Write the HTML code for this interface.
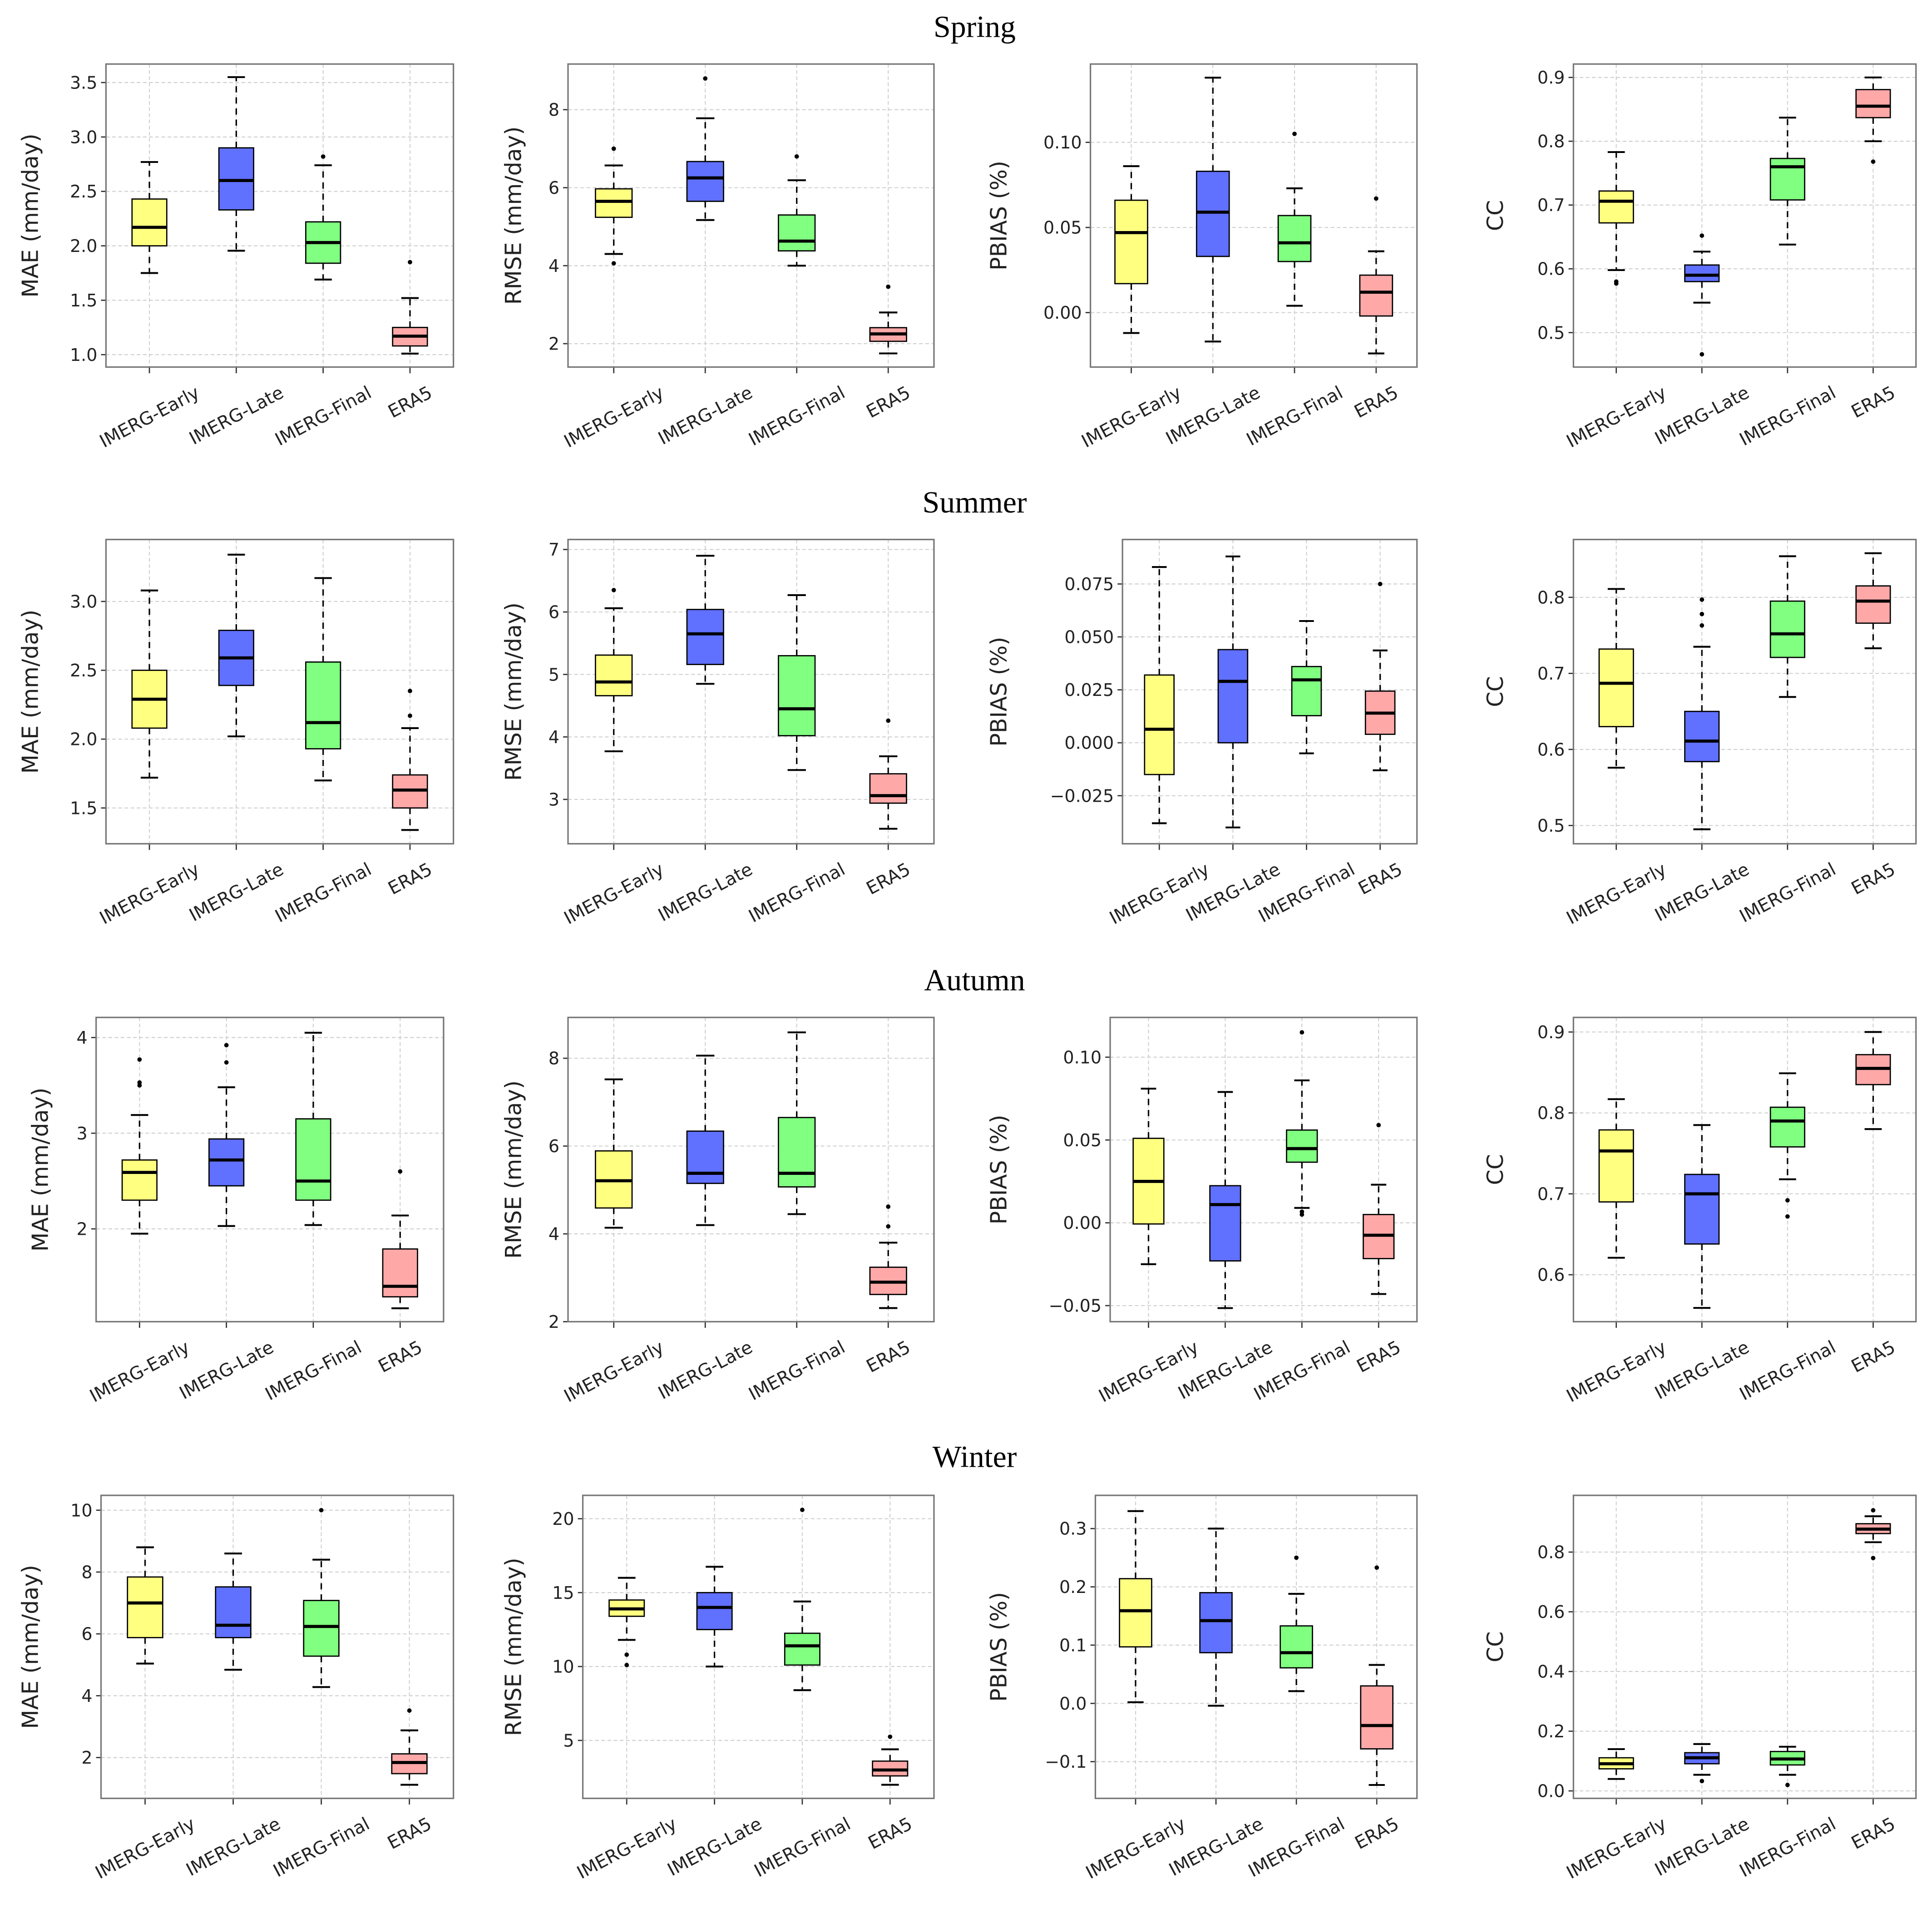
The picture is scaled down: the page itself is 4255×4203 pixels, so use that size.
<!DOCTYPE html>
<html><head><meta charset="utf-8"><style>
html,body{margin:0;padding:0;background:#fff;}
svg{display:block;}
text{font-family:"DejaVu Sans","Liberation Sans",sans-serif;fill:#222;}
.title{font-family:"Liberation Serif",serif;font-size:25px;fill:#000;}
</style></head><body>
<svg id="fig" xmlns="http://www.w3.org/2000/svg" width="4255" height="4203" viewBox="0 0 1568 1549" preserveAspectRatio="none">
<rect width="1568" height="1549" fill="#fff"/>
</svg>
<script>
const cats=['IMERG-Early','IMERG-Late','IMERG-Final','ERA5'];
const seasons=['Spring','Summer','Autumn','Winter'];
const metrics=['MAE (mm/day)','RMSE (mm/day)','PBIAS (%)','CC'];
// stats: [whiskerLow, q1, median, q3, whiskerHigh]
const spMAE=[[1.75,2.0,2.17,2.43,2.77],[1.955,2.33,2.6,2.9,3.55],[1.69,1.84,2.03,2.22,2.74],[1.01,1.08,1.17,1.25,1.52]];
const spMAEOut=[[],[],[2.82],[1.85]];
const spRMSE=[[4.3,5.24,5.65,5.97,6.57],[5.17,5.65,6.25,6.67,7.78],[4.0,4.38,4.63,5.3,6.19],[1.75,2.06,2.25,2.41,2.8]];
const spRMSEOut=[[4.06,7.0],[8.8],[6.8],[3.46]];
const spPB=[[-0.012,0.017,0.047,0.066,0.086],[-0.017,0.033,0.059,0.083,0.138],[0.004,0.030,0.041,0.057,0.073],[-0.024,-0.002,0.012,0.022,0.036]];
const spPBOut=[[],[],[0.105],[0.067]];
const spCC=[[0.598,0.672,0.706,0.722,0.783],[0.547,0.58,0.59,0.606,0.627],[0.638,0.708,0.76,0.773,0.837],[0.8,0.837,0.855,0.881,0.9]];
const spCCOut=[[0.58,0.577],[0.652,0.466],[],[0.768]];

const suMAE=[[1.72,2.08,2.29,2.5,3.08],[2.02,2.39,2.59,2.79,3.34],[1.7,1.93,2.12,2.56,3.17],[1.34,1.5,1.63,1.74,2.08]];
const suMAEOut=[[],[],[],[2.17,2.35]];
const suRMSE=[[3.77,4.66,4.88,5.31,6.06],[4.85,5.16,5.65,6.04,6.9],[3.47,4.02,4.45,5.3,6.27],[2.53,2.94,3.06,3.41,3.69]];
const suRMSEOut=[[6.35],[],[],[4.26]];
const suPB=[[-0.038,-0.015,0.0064,0.032,0.083],[-0.04,0,0.029,0.044,0.088],[-0.005,0.0128,0.0297,0.036,0.0575],[-0.013,0.004,0.014,0.0244,0.0436]];
const suPBOut=[[],[],[],[0.075]];
const suCC=[[0.576,0.63,0.687,0.732,0.811],[0.495,0.584,0.611,0.65,0.735],[0.669,0.721,0.752,0.795,0.854],[0.733,0.766,0.795,0.815,0.858]];
const suCCOut=[[],[0.763,0.778,0.797],[],[]];

const auMAE=[[1.95,2.3,2.59,2.72,3.19],[2.03,2.45,2.72,2.94,3.48],[2.04,2.3,2.5,3.15,4.05],[1.17,1.29,1.4,1.79,2.14]];
const auMAEOut=[[3.5,3.53,3.77],[3.74,3.92],[],[2.6]];
const auRMSE=[[4.14,4.59,5.21,5.89,7.52],[4.2,5.15,5.38,6.34,8.06],[4.45,5.07,5.38,6.65,8.59],[2.31,2.62,2.9,3.24,3.8]];
const auRMSEOut=[[],[],[],[4.17,4.62]];
const auPB=[[-0.025,-0.0007,0.025,0.051,0.081],[-0.0515,-0.023,0.011,0.0224,0.079],[0.009,0.0366,0.0448,0.056,0.086],[-0.043,-0.0216,-0.0075,0.005,0.023]];
const auPBOut=[[],[],[0.0067,0.005,0.115],[0.059]];
const auCC=[[0.621,0.69,0.753,0.779,0.817],[0.559,0.638,0.7,0.724,0.785],[0.718,0.758,0.79,0.807,0.849],[0.78,0.835,0.855,0.872,0.9]];
const auCCOut=[[],[],[0.692,0.672],[]];

const wiMAE=[[5.04,5.88,7.0,7.84,8.8],[4.84,5.88,6.28,7.52,8.6],[4.28,5.28,6.24,7.08,8.4],[1.12,1.48,1.84,2.12,2.88]];
const wiMAEOut=[[],[],[10.0],[3.52]];
const wiRMSE=[[11.8,13.4,13.9,14.5,16.0],[10.0,12.5,14.0,15.0,16.75],[8.4,10.1,11.4,12.25,14.4],[2.0,2.6,3.0,3.6,4.4]];
const wiRMSEOut=[[10.8,10.1],[],[20.6],[5.25]];
const wiPB=[[0.002,0.097,0.159,0.214,0.33],[-0.004,0.087,0.142,0.19,0.3],[0.021,0.061,0.087,0.133,0.188],[-0.14,-0.078,-0.038,0.03,0.066]];
const wiPBOut=[[],[],[0.25],[0.233]];
const wiCC=[[0.04,0.074,0.091,0.111,0.14],[0.054,0.091,0.111,0.128,0.157],[0.054,0.087,0.107,0.132,0.148],[0.833,0.862,0.877,0.895,0.92]];
const wiCCOut=[[],[0.033],[0.02],[0.94,0.78]];

// tick label values
const tMAE1=[1.0,1.5,2.0,2.5,3.0,3.5];
const tRMSE1=[2,4,6,8];
const tPB1=[0.00,0.05,0.10];
const tCC1=[0.5,0.6,0.7,0.8,0.9];
const tMAE2=[1.5,2.0,2.5,3.0];
const tRMSE2=[3,4,5,6,7];
const tPB2=[-0.025,0.000,0.025,0.050,0.075];
const tCC2=[0.5,0.6,0.7,0.8];
const tMAE3=[2,3,4];
const tRMSE3=[2,4,6,8];
const tPB3=[-0.05,0.00,0.05,0.10];
const tCC3=[0.6,0.7,0.8,0.9];
const tMAE4=[2,4,6,8,10];
const tRMSE4=[5,10,15,20];
const tPB4=[-0.1,0.0,0.1,0.2,0.3];
const tCC4=[0.0,0.2,0.4,0.6,0.8];

const colors=['#ffff80','#6070ff','#80ff80','#ffa8a8'];
const rowsY=[[52,298],[438,685],[826,1073],[1214,1460]];
const titleY=[22,408,796,1183];
const panels=[
 [[86,368,26,0.886,3.67,tMAE1,1,spMAE,spMAEOut],[461,758,418,1.4,9.17,tRMSE1,0,spRMSE,spRMSEOut],[885,1150,812,-0.032,0.146,tPB1,2,spPB,spPBOut],[1277,1555,1215,0.446,0.921,tCC1,1,spCC,spCCOut]],
 [[86,368,26,1.24,3.45,tMAE2,1,suMAE,suMAEOut],[461,758,418,2.29,7.16,tRMSE2,0,suRMSE,suRMSEOut],[911,1150,812,-0.0477,0.096,tPB2,3,suPB,suPBOut],[1277,1555,1215,0.476,0.876,tCC2,1,suCC,suCCOut]],
 [[78,360,34,1.03,4.21,tMAE3,0,auMAE,auMAEOut],[461,758,418,2.0,8.93,tRMSE3,0,auRMSE,auRMSEOut],[901,1150,812,-0.0597,0.124,tPB3,2,auPB,auPBOut],[1277,1555,1215,0.542,0.918,tCC3,1,auCC,auCCOut]],
 [[82,368,26,0.68,10.48,tMAE4,0,wiMAE,wiMAEOut],[473,758,418,1.08,21.58,tRMSE4,0,wiRMSE,wiRMSEOut],[889,1150,812,-0.163,0.357,tPB4,1,wiPB,wiPBOut],[1277,1555,1215,-0.025,0.99,tCC4,1,wiCC,wiCCOut]]
];
const NS='http://www.w3.org/2000/svg';
const svg=document.getElementById('fig');
function mk(tag,attrs,parent,text){const e=document.createElementNS(NS,tag);for(const k in attrs)e.setAttribute(k,attrs[k]);if(text!==undefined)e.textContent=text;(parent||svg).appendChild(e);return e;}
function fmt(v,d){const s=Math.abs(v).toFixed(d);return (v<-1e-12?'\u2212':'')+s;}
const ANG=28, RAD=ANG*Math.PI/180, FS=14.5;
seasons.forEach((s,r)=>{
  const t=mk('text',{x:791,y:titleY[r]+8,'text-anchor':'middle',class:'title'},svg,s);
  
  
  panels[r].forEach((p,c)=>{
    const [x0,x1,ylx,ymin,ymax,ticks,dec,stats,outs]=p;
    const [y0,y1]=rowsY[r];
    const g=mk('g',{});
    
    
    const X=i=>x0+(i+0.5)*(x1-x0)/4;
    const Y=v=>y1-(v-ymin)/(ymax-ymin)*(y1-y0);
    const bw=(x1-x0)/4*0.4;
    ticks.forEach(tv=>{
      const y=Y(tv);
      mk('line',{x1:x0,x2:x1,y1:y,y2:y,stroke:'#d0d0d0','stroke-width':0.8,'stroke-dasharray':'3,2'},g);
      mk('line',{x1:x0-4,x2:x0,y1:y,y2:y,stroke:'#333','stroke-width':1},g);
      const tl=mk('text',{x:x0-7,y:y+5,'text-anchor':'end','font-size':14},g,fmt(tv,dec));
      
      
    });
    cats.forEach((cn,i)=>{
      const x=X(i);
      mk('line',{x1:x,x2:x,y1:y0,y2:y1,stroke:'#d0d0d0','stroke-width':0.8,'stroke-dasharray':'3,2'},g);
      mk('line',{x1:x,x2:x,y1:y1,y2:y1+5,stroke:'#333','stroke-width':1},g);
      const xl=mk('text',{x:x,y:y1,'text-anchor':'middle','font-size':FS},g,cn);
      
      
      let w=cn.length*FS*0.6;
      try{const m=xl.getComputedTextLength();if(m>0)w=m;}catch(e){}
      const h=FS*1.0;
      const half=(w*Math.sin(RAD)+h*Math.cos(RAD))/2;
      const cy=y1+13+half;
      xl.setAttribute('y',cy+FS*0.35);
      xl.setAttribute('transform',`rotate(-${ANG} ${x} ${cy})`);
    });
    mk('rect',{x:x0,y:y0,width:x1-x0,height:y1-y0,fill:'none',stroke:'#777','stroke-width':1.2},g);
    stats.forEach((st,i)=>{
      const x=X(i);const [lo,q1,md,q3,hi]=st;
      const bg=mk('g',{},g);
      
      
      mk('line',{x1:x,x2:x,y1:Y(q3),y2:Y(hi),stroke:'#000','stroke-width':1.2,'stroke-dasharray':'5,4'},bg);
      mk('line',{x1:x,x2:x,y1:Y(q1),y2:Y(lo),stroke:'#000','stroke-width':1.2,'stroke-dasharray':'5,4'},bg);
      mk('line',{x1:x-bw/4,x2:x+bw/4,y1:Y(hi),y2:Y(hi),stroke:'#000','stroke-width':1.5},bg);
      mk('line',{x1:x-bw/4,x2:x+bw/4,y1:Y(lo),y2:Y(lo),stroke:'#000','stroke-width':1.5},bg);
      mk('rect',{x:x-bw/2,y:Y(q3),width:bw,height:Math.max(0.5,Y(q1)-Y(q3)),fill:colors[i],stroke:'#000','stroke-width':1},bg);
      mk('line',{x1:x-bw/2,x2:x+bw/2,y1:Y(md),y2:Y(md),stroke:'#000','stroke-width':2.5},bg);
      outs[i].forEach(o=>{mk('circle',{cx:x,cy:Y(o),r:1.8,fill:'#000'},bg);});
    });
    const yc=(y0+y1)/2;
    const yl=mk('text',{x:ylx,y:yc,'text-anchor':'middle','font-size':18,transform:`rotate(-90 ${ylx} ${yc})`,'dominant-baseline':'middle'},g,metrics[c]);
    
    
  });
});
</script>
</body></html>
